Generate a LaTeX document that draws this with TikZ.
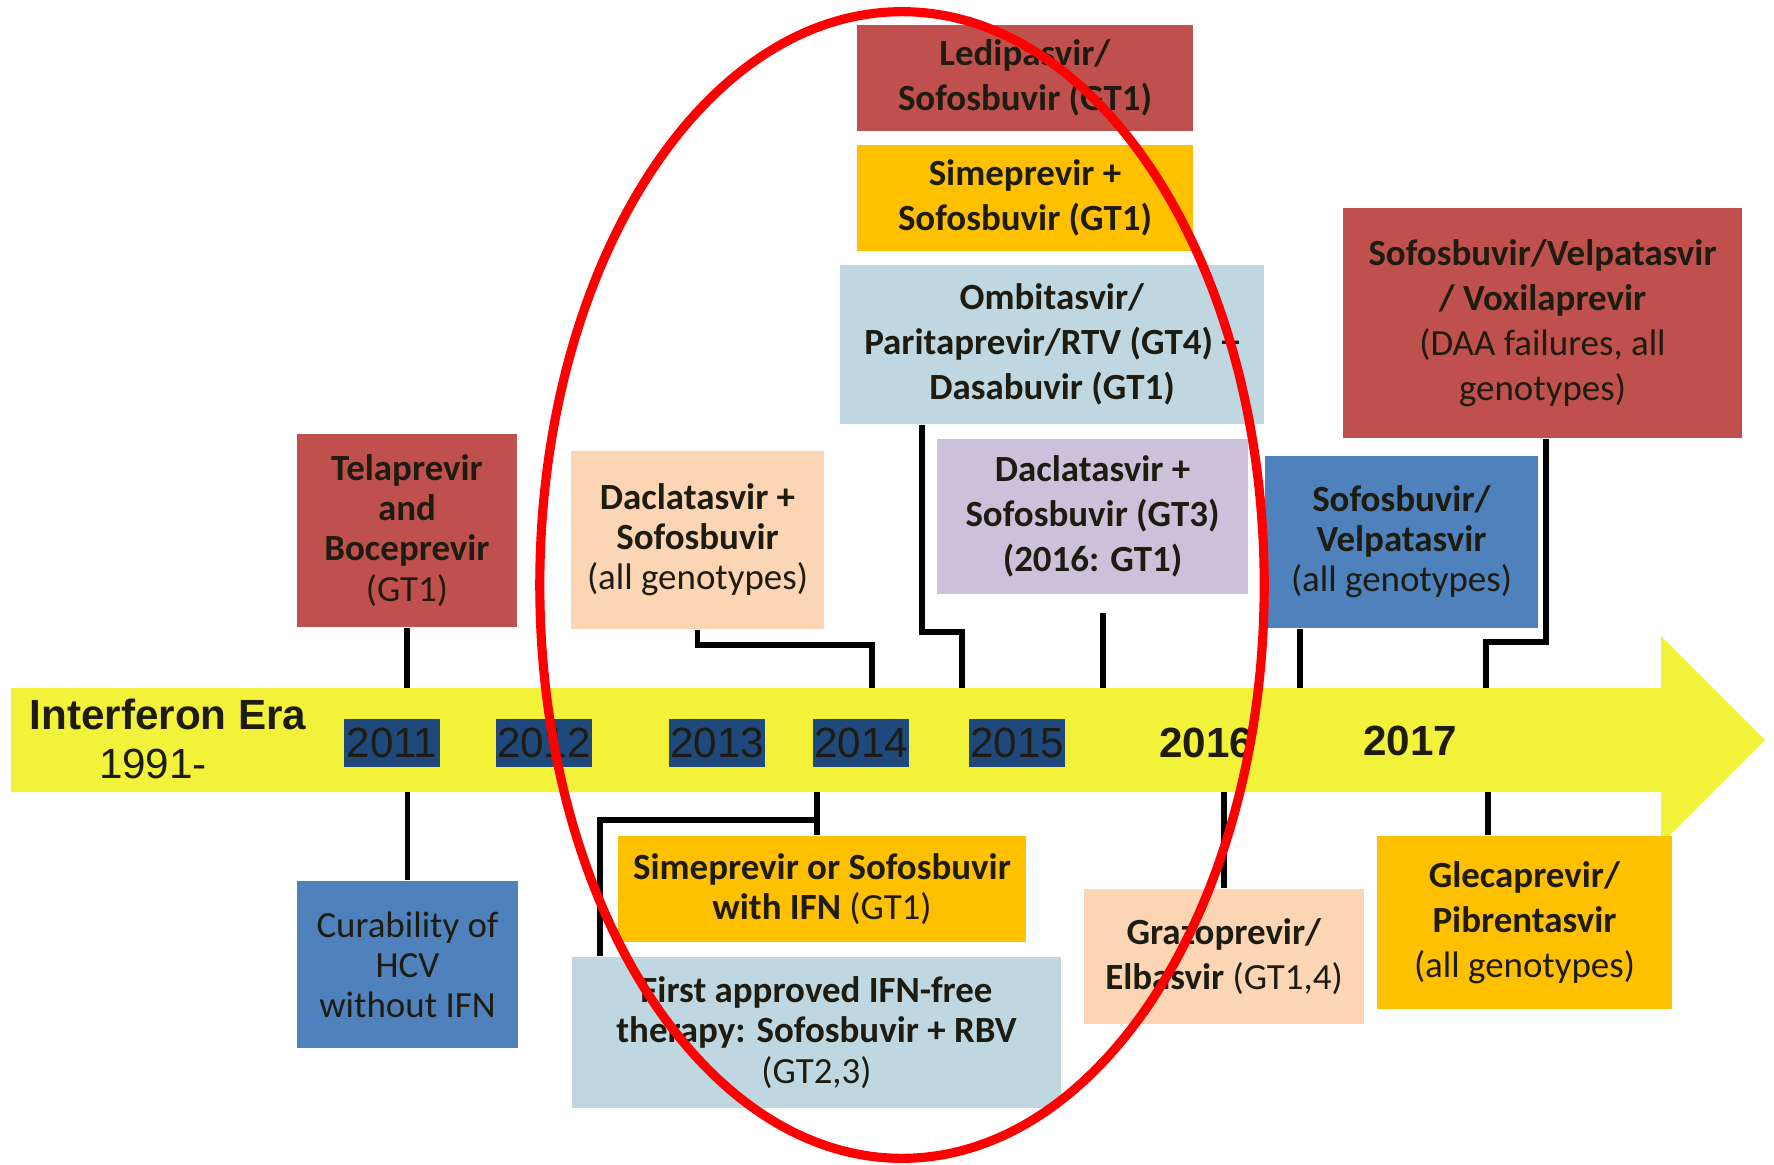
\documentclass[tikz,border=0pt]{standalone}
\usepackage{fontspec}
\setmainfont{Carlito}
\newfontfamily\arialfont{Liberation Sans}
\definecolor{boxred}{RGB}{192,80,77}
\definecolor{boxorange}{RGB}{255,192,0}
\definecolor{boxaqua}{RGB}{190,215,225}
\definecolor{boxlilac}{RGB}{204,193,218}
\definecolor{boxpeach}{RGB}{252,213,181}
\definecolor{boxblue}{RGB}{79,129,189}
\definecolor{navy}{RGB}{31,73,125}
\definecolor{baryellow}{RGB}{242,242,58}
\definecolor{textdark}{RGB}{30,28,17}

\begin{document}
\begin{tikzpicture}[x=0.01cm, y=-0.01cm, line join=miter,
    box/.style={inner sep=0pt, align=center, text=textdark, font=\fontsize{10.5}{11.4}\selectfont},
    loose/.style={font=\fontsize{10.5}{12.8}\selectfont},
    conn/.style={line width=1.5pt},
    yearbox/.style={fill=navy, inner sep=0pt, minimum width=0.95cm, minimum height=0.47cm,
        text=textdark, font=\arialfont\fontsize{12}{14}\selectfont},
    yearbold/.style={anchor=base, inner sep=0pt, text=textdark, font=\arialfont\bfseries\fontsize{12}{14}\selectfont}]
    \useasboundingbox (0,0) rectangle (1774,1164);

    % timeline arrow
    \fill[baryellow] (11,688) -- (1661,688) -- (1661,636) -- (1765,740)
        -- (1661,844) -- (1661,792) -- (11,792) -- cycle;
    \coordinate (bartop) at (0,688);
    \coordinate (barbot) at (0,792);

    % years
    \node[yearbold, font=\arialfont\bfseries\fontsize{12}{14}\selectfont] (era) at (168,729) {Interferon Era};
    \node[yearbold, font=\arialfont\fontsize{12}{14}\selectfont] (since) at (153,778) {1991-};
    \node[yearbox] (y2011) at (392,743) {2011};
    \node[yearbox] (y2012) at (544,743) {2012};
    \node[yearbox] (y2013) at (717,743) {2013};
    \node[yearbox] (y2014) at (861,743) {2014};
    \node[yearbox] (y2015) at (1017,743) {2015};
    \node[yearbold] (y2016) at (1206,757) {2016};
    \node[yearbold] (y2017) at (1410,755) {2017};

    % boxes above the arrow
    \node[box, loose, fill=boxred, minimum width=3.36cm, minimum height=1.06cm] (ledi) at (1025,78)
        {\textbf{Ledipasvir/}\\\textbf{Sofosbuvir (GT1)}};
    \node[box, loose, fill=boxorange, minimum width=3.36cm, minimum height=1.06cm] (simplus) at (1025,198)
        {\textbf{Simeprevir +}\\\textbf{Sofosbuvir (GT1)}};
    \node[box, loose, fill=boxaqua, minimum width=4.24cm, minimum height=1.59cm] (ombi) at (1052,344.5)
        {\textbf{Ombitasvir/}\\\textbf{Paritaprevir/RTV (GT4) +}\\\textbf{Dasabuvir (GT1)}};
    \node[box, loose, fill=boxlilac, minimum width=3.11cm, minimum height=1.55cm] (dac3) at (1092.5,516.5)
        {\textbf{Daclatasvir +}\\\textbf{Sofosbuvir (GT3)}\\\textbf{(2016: GT1)}};
    \node[box, fill=boxred, minimum width=2.20cm, minimum height=1.93cm] (tela) at (407,530.5)
        {\textbf{Telaprevir}\\\textbf{and}\\\textbf{Boceprevir}\\(GT1)};
    \node[box, fill=boxpeach, minimum width=2.53cm, minimum height=1.78cm] (dacall) at (697.5,540)
        {\textbf{Daclatasvir +}\\\textbf{Sofosbuvir}\\(all genotypes)};
    \node[box, loose, fill=boxred, minimum width=3.99cm, minimum height=2.30cm] (vox) at (1542.5,323)
        {\textbf{Sofosbuvir/Velpatasvir}\\\textbf{/ Voxilaprevir}\\(DAA failures, all\\genotypes)};
    \node[box, fill=boxblue, minimum width=2.73cm, minimum height=1.72cm] (sofvel) at (1401.5,542)
        {\textbf{Sofosbuvir/}\\\textbf{Velpatasvir}\\(all genotypes)};

    % boxes below the arrow
    \node[box, fill=boxblue, minimum width=2.21cm, minimum height=1.67cm] (cure) at (407.5,964.5)
        {Curability of\\HCV\\without IFN};
    \node[box, fill=boxorange, minimum width=4.08cm, minimum height=1.06cm] (simor) at (822,889)
        {\textbf{Simeprevir or Sofosbuvir}\\\textbf{with IFN} (GT1)};
    \node[box, fill=boxaqua, minimum width=4.89cm, minimum height=1.51cm] (first) at (816.5,1032.5)
        {\textbf{First approved IFN-free}\\\textbf{therapy: Sofosbuvir + RBV}\\(GT2,3)};
    \node[box, loose, fill=boxpeach, minimum width=2.80cm, minimum height=1.35cm] (graz) at (1224,956.5)
        {\textbf{Grazoprevir/}\\\textbf{Elbasvir} (GT1,4)};
    \node[box, loose, fill=boxorange, minimum width=2.95cm, minimum height=1.73cm] (glec) at (1524.5,922.5)
        {\textbf{Glecaprevir/}\\\textbf{Pibrentasvir}\\(all genotypes)};

    % connector bends
    \coordinate (bend14) at (872,645);
    \coordinate (bend15) at (922,632);
    \coordinate (bend15b) at (962,632);
    \coordinate (gt3end) at (1103,613);
    \coordinate (sv16) at (1300,0);
    \coordinate (bend17) at (1546,642);
    \coordinate (bend17b) at (1486,642);
    \coordinate (dn14) at (817,792);
    \coordinate (bend14b) at (817,820);
    \coordinate (bend14c) at (600,820);
    \coordinate (gl17) at (1488,0);

    % connectors
    \draw[conn] (tela.south) -- (tela.south |- bartop);
    \draw[conn] (dacall.south) |- (bend14) -- (bend14 |- bartop);
    \draw[conn] (ombi.south -| bend15) -- (bend15) -- (bend15b) -- (bend15b |- bartop);
    \draw[conn] (gt3end) -- (gt3end |- bartop);
    \draw[conn] (sofvel.south -| sv16) -- (sv16 |- bartop);
    \draw[conn] (vox.south -| bend17) -- (bend17) -- (bend17b) -- (bend17b |- bartop);
    \draw[conn] (cure.north) -- (cure.north |- barbot);
    \draw[conn] (dn14) -- (simor.north -| dn14);
    \draw[conn] (bend14b) -- (bend14c) -- (bend14c |- first.north);
    \draw[conn] (graz.north) -- (graz.north |- barbot);
    \draw[conn] (glec.north -| gl17) -- (gl17 |- barbot);

    % highlight
    \draw[red, line width=2.6pt] (902,585) ellipse [x radius=3.62cm, y radius=5.73cm];
\end{tikzpicture}
\end{document}
